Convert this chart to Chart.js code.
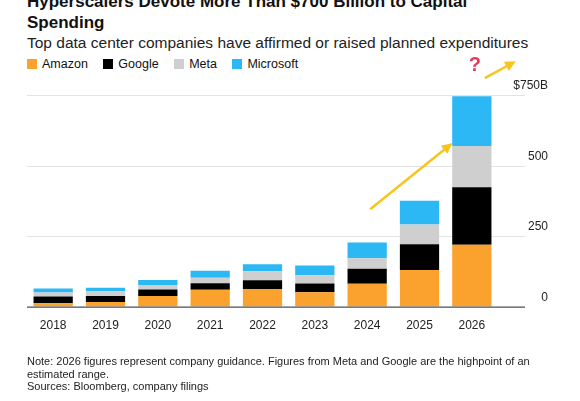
<!DOCTYPE html>
<html lang="en">
<head>
<meta charset="UTF-8">
<title>Hyperscalers capex</title>
<script src="https://cdn.jsdelivr.net/npm/chart.js@4.4.0/dist/chart.umd.min.js"></script>
<style>
  body { margin: 0; width: 580px; height: 401px; background: #fff; font-family: "Liberation Sans", Arial, sans-serif; overflow: hidden; position: relative; }
  .title { position: absolute; left: 27px; top: -9px; font-weight: bold; font-size: 17px; line-height: 21px; color: #111; }
  .sub { position: absolute; left: 27px; top: 34px; font-size: 15.5px; color: #222; }
  .legend { position: absolute; left: 27px; top: 57px; font-size: 12.5px; color: #111; }
  .legend span { margin-right: 12px; }
  .legend i { display: inline-block; width: 10px; height: 10px; margin-right: 5px; vertical-align: -1px; }
  .note { position: absolute; left: 27px; top: 355px; font-size: 11px; line-height: 12.5px; color: #222; width: 540px; }
  #wrap { position: absolute; left: 0; top: 0; width: 580px; height: 401px; }
</style>
</head>
<body>
<div class="title">Hyperscalers Devote More Than $700 Billion to Capital<br>Spending</div>
<div class="sub">Top data center companies have affirmed or raised planned expenditures</div>
<div class="legend">
  <span><i style="background:#fba12e"></i>Amazon</span>
  <span><i style="background:#000"></i>Google</span>
  <span><i style="background:#cfcfcf"></i>Meta</span>
  <span><i style="background:#2bb8f5"></i>Microsoft</span>
</div>
<div id="wrap"><canvas id="chart" width="580" height="401"></canvas></div>
<div class="note">Note: 2026 figures represent company guidance. Figures from Meta and Google are the highpoint of an estimated range.<br>Sources: Bloomberg, company filings</div>

<script>
const years = ["2018", "2019", "2020", "2021", "2022", "2023", "2024", "2025", "2026"];
const amazon = [12, 16, 38, 60, 62, 51, 81, 130, 219];
const google = [24, 22, 23, 23, 31, 31, 53, 91, 204];
const meta = [14, 16, 16, 19, 32, 29, 37, 70, 146];
const microsoft = [14, 13, 17, 25, 25, 35, 56, 84, 177];
const yTicks = [0, 250, 500, 750];
const yTickLabels = ["0", "250", "500", "$750B"];

const overlay = {
  id: "overlay",
  beforeDatasetsDraw(chart) {
    const ctx = chart.ctx, y = chart.scales.y, a = chart.chartArea;
    ctx.save();
    ctx.strokeStyle = "#e2e2e2";
    ctx.lineWidth = 1;
    yTicks.forEach(v => {
      if (v === 0) return;
      const py = Math.round(y.getPixelForValue(v)) + 0.5;
      ctx.beginPath(); ctx.moveTo(a.left, py); ctx.lineTo(a.right + 27, py); ctx.stroke();
    });
    ctx.restore();
  },
  afterDraw(chart) {
    const ctx = chart.ctx, y = chart.scales.y, x = chart.scales.x, a = chart.chartArea;
    ctx.save();
    // baseline
    ctx.strokeStyle = "#222";
    ctx.beginPath();
    ctx.moveTo(a.left, y.getPixelForValue(0) + 0.5);
    ctx.lineTo(a.right + 27, y.getPixelForValue(0) + 0.5);
    ctx.stroke();
    // tick labels above the grid lines, right aligned
    ctx.fillStyle = "#222";
    ctx.font = "12px 'Liberation Sans', Arial, sans-serif";
    ctx.textAlign = "right";
    ctx.textBaseline = "bottom";
    yTicks.forEach((v, i) => ctx.fillText(yTickLabels[i], a.right + 50, y.getPixelForValue(v) - 3));
    // yellow arrows
    const arrow = (x1, y1, x2, y2) => {
      ctx.strokeStyle = "#f7c51e"; ctx.fillStyle = "#f7c51e"; ctx.lineWidth = 2.5;
      const ang = Math.atan2(y2 - y1, x2 - x1);
      ctx.beginPath(); ctx.moveTo(x1, y1); ctx.lineTo(x2 - 8 * Math.cos(ang), y2 - 8 * Math.sin(ang)); ctx.stroke();
      ctx.beginPath(); ctx.moveTo(x2, y2);
      ctx.lineTo(x2 - 12 * Math.cos(ang - 0.45), y2 - 12 * Math.sin(ang - 0.45));
      ctx.lineTo(x2 - 12 * Math.cos(ang + 0.45), y2 - 12 * Math.sin(ang + 0.45));
      ctx.closePath(); ctx.fill();
    };
    const x24 = x.getPixelForValue(6), x25 = x.getPixelForValue(7), x26 = x.getPixelForValue(8);
    arrow(x24 + 3, y.getPixelForValue(345), x25 + 33, y.getPixelForValue(580));
    arrow(x26 + 13, y.getPixelForValue(810), x26 + 44, y.getPixelForValue(870));
    ctx.fillStyle = "#e8395a";
    ctx.font = "bold 20px 'Liberation Sans', Arial, sans-serif";
    ctx.textAlign = "center";
    ctx.textBaseline = "middle";
    ctx.fillText("?", x26 + 3, y.getPixelForValue(855));
    ctx.restore();
  }
};

new Chart("chart", {
  type: "bar",
  data: {
    labels: years,
    datasets: [
      { label: "Amazon", data: amazon, backgroundColor: "#fba12e" },
      { label: "Google", data: google, backgroundColor: "#000000" },
      { label: "Meta", data: meta, backgroundColor: "#cfcfcf" },
      { label: "Microsoft", data: microsoft, backgroundColor: "#2bb8f5" }
    ]
  },
  options: {
    responsive: false,
    animation: false,
    layout: { padding: { top: 95, left: 27, right: 82, bottom: 64 } },
    datasets: { bar: { categoryPercentage: 0.75, barPercentage: 1 } },
    plugins: { legend: { display: false }, tooltip: { enabled: false } },
    scales: {
      x: {
        stacked: true,
        grid: { display: false },
        border: { display: false },
        ticks: { color: "#222", font: { size: 12, family: "'Liberation Sans', Arial, sans-serif" }, padding: 4 }
      },
      y: {
        stacked: true, min: 0, max: 750, display: false
      }
    }
  },
  plugins: [overlay]
});
</script>
</body>
</html>
